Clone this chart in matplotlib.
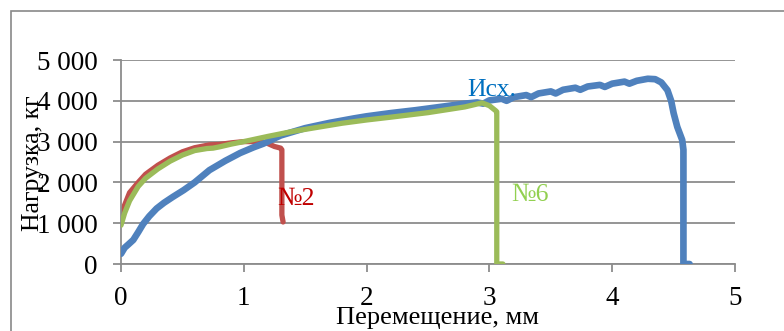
import matplotlib
matplotlib.use("Agg")
import matplotlib.pyplot as plt
from matplotlib.patches import Rectangle

plt.rcParams['font.family'] = ['Liberation Serif', 'DejaVu Serif']

# Исх. (original specimen)
x_base = [0.0, 0.03, 0.06, 0.1, 0.14, 0.18, 0.23, 0.29, 0.35, 0.42, 0.51, 0.6, 0.72, 0.85, 0.97,
          1.08, 1.16, 1.3, 1.5, 1.7, 1.9, 2.0, 2.2, 2.4, 2.6, 2.8, 2.9, 2.95, 3.0, 3.1, 3.14,
          3.2, 3.3, 3.34, 3.4, 3.5, 3.54, 3.6, 3.7, 3.74, 3.8, 3.9, 3.94, 4.0, 4.1, 4.14, 4.2, 4.29, 4.35,
          4.4, 4.45, 4.48, 4.5, 4.53, 4.55, 4.57, 4.58, 4.58, 4.63]
y_base = [250, 400, 480, 590, 780, 980, 1170, 1360, 1500, 1640, 1810, 2000, 2300, 2530, 2720,
          2860, 2950, 3150, 3330, 3460, 3570, 3620, 3700, 3770, 3850, 3930, 3960, 3930, 4010, 4050, 4000,
          4090, 4140, 4090, 4180, 4230, 4180, 4270, 4320, 4270, 4350, 4390, 4340, 4420, 4470, 4420, 4490, 4540, 4530,
          4450, 4260, 4000, 3700, 3360, 3200, 3040, 2800, 0, 0]

# №2
x_n2 = [0.0, 0.03, 0.07, 0.14, 0.2, 0.3, 0.4, 0.5, 0.6, 0.72, 0.8, 0.9, 1.0, 1.1, 1.19, 1.25, 1.3,
        1.31, 1.31, 1.32]
y_n2 = [1200, 1450, 1750, 2000, 2200, 2420, 2600, 2750, 2850, 2920, 2930, 2970, 3000, 3000, 2960,
        2880, 2840, 2800, 1200, 1030]

# №6
x_n6 = [0.0, 0.03, 0.07, 0.14, 0.2, 0.3, 0.4, 0.5, 0.6, 0.7, 0.75, 0.8, 0.9, 1.0, 1.2, 1.4, 1.6,
        1.8, 2.0, 2.2, 2.5, 2.8, 2.94, 3.0, 3.05, 3.06, 3.06, 3.11]
y_n6 = [950, 1250, 1550, 1900, 2100, 2330, 2520, 2670, 2780, 2830, 2840, 2870, 2940, 3000, 3130, 3250,
        3350, 3450, 3530, 3600, 3710, 3850, 3950, 3880, 3760, 3730, 0, 0]

x_ticks = [0, 1, 2, 3, 4, 5]
y_ticks = [0, 1000, 2000, 3000, 4000, 5000]
y_tick_labels = ['0', '1 000', '2 000', '3 000', '4 000', '5 000']

c_blue, c_red, c_green = '#4F81BD', '#C0504D', '#9BBB59'

fig = plt.figure(figsize=(7.84, 3.31), dpi=100)
fig.patches.append(Rectangle((11 / 784, -0.1), 1.2, 1 - 11 / 331 + 0.1, transform=fig.transFigure,
                             fill=False, edgecolor='#898989', linewidth=1.2))
ax = fig.add_axes([121 / 784, 1 - 264 / 331, (735 - 121) / 784, (264 - 60) / 331])

ax.plot(x_base, y_base, color=c_blue, lw=4.8, solid_capstyle='round', solid_joinstyle='round', zorder=3)
ax.plot(x_n6, y_n6, color=c_green, lw=3.8, solid_capstyle='round', solid_joinstyle='round', zorder=4)
ax.plot(x_n2, y_n2, color=c_red, lw=3.8, solid_capstyle='round', solid_joinstyle='round', zorder=2)

ax.set_xlim(0, 5)
ax.set_ylim(0, 5000)
ax.set_xticks(x_ticks)
ax.set_xticklabels([str(t) for t in x_ticks])
ax.set_yticks(y_ticks)
ax.set_yticklabels(y_tick_labels)
ax.yaxis.grid(True, color='#8C8C8C', linewidth=1.3)
ax.set_axisbelow(True)
for s in ['top', 'right']:
    ax.spines[s].set_visible(False)
for s in ['left', 'bottom']:
    ax.spines[s].set_color('#8C8C8C')
    ax.spines[s].set_linewidth(1.3)
ax.tick_params(axis='both', direction='out', color='#8C8C8C', width=1.3, length=6,
               labelsize=19.5, labelcolor='black')
ax.tick_params(axis='x', pad=10)
ax.tick_params(axis='y', pad=11)

ax.text(1.27, 1600, '№2', color='#C00000', fontsize=18.5, ha='left', va='center', zorder=5)
ax.text(3.18, 1700, '№6', color='#92D050', fontsize=18.5, ha='left', va='center', zorder=5)
ax.text(2.82, 4270, 'Исх.', color='#0070C0', fontsize=18.5, ha='left', va='center', zorder=5)

fig.text(437 / 784, 1 - 318 / 331, 'Перемещение, мм', fontsize=19, ha='center', va='center')
fig.text(33 / 784, 1 - 163 / 331, 'Нагрузка, кг', fontsize=18.5, ha='center', va='center', rotation=90)

fig.savefig('out.png', dpi=100)
